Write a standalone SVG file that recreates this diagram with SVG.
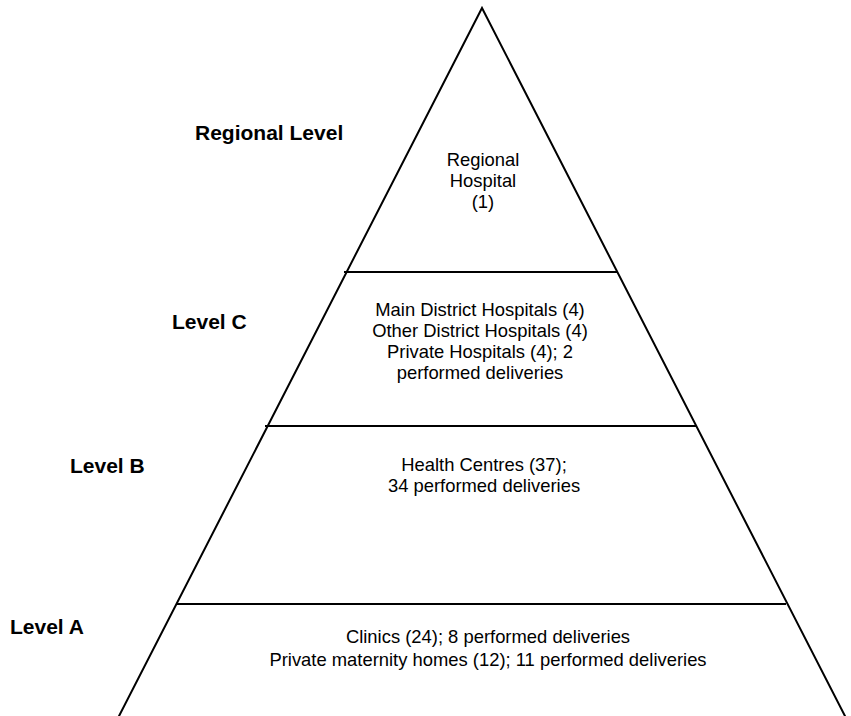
<svg xmlns="http://www.w3.org/2000/svg" width="851" height="716" viewBox="0 0 851 716">
<style>
.edge{stroke:#000;stroke-width:2;fill:none}
.lbl{font-family:"Liberation Sans",Arial,sans-serif;font-weight:bold;font-size:21px;fill:#000}
.txt{font-family:"Liberation Sans",Arial,sans-serif;font-size:18.4px;fill:#000;text-anchor:middle}
</style>
<rect width="851" height="716" fill="#fff"/>
<g id="connectors">
<polyline class="edge" points="118,718 482,8 846,718"/>
<line class="edge" x1="344" y1="272" x2="618" y2="272"/>
<line class="edge" x1="265" y1="426" x2="696" y2="426"/>
<line class="edge" x1="176" y1="604" x2="786" y2="604"/>
</g>
<g id="regional-label"><text class="lbl" x="195" y="140">Regional Level</text></g>
<g id="levelc-label"><text class="lbl" x="172" y="329">Level C</text></g>
<g id="levelb-label"><text class="lbl" x="70" y="473">Level B</text></g>
<g id="levela-label"><text class="lbl" x="10" y="634">Level A</text></g>
<g id="regional-node">
<text class="txt" x="483" y="166">Regional</text>
<text class="txt" x="483" y="187">Hospital</text>
<text class="txt" x="483" y="208">(1)</text>
</g>
<g id="levelc-node">
<text class="txt" x="480" y="316">Main District Hospitals (4)</text>
<text class="txt" x="480" y="337">Other District Hospitals (4)</text>
<text class="txt" x="480" y="358">Private Hospitals (4); 2</text>
<text class="txt" x="480" y="379">performed deliveries</text>
</g>
<g id="levelb-node">
<text class="txt" x="484" y="471">Health Centres (37);</text>
<text class="txt" x="484" y="492">34 performed deliveries</text>
</g>
<g id="levela-node">
<text class="txt" x="488" y="643">Clinics (24); 8 performed deliveries</text>
<text class="txt" x="488" y="666">Private maternity homes (12); 11 performed deliveries</text>
</g>
</svg>
